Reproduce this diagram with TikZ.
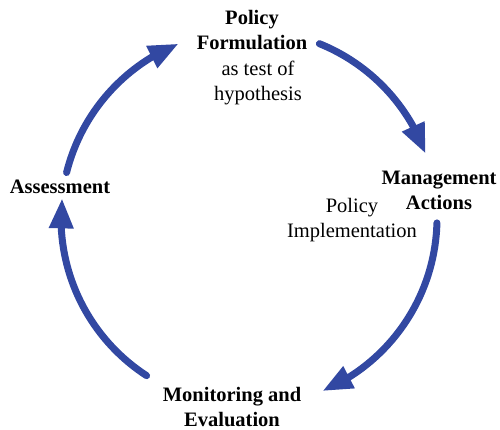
\documentclass[tikz,border=0pt]{standalone}
\usepackage{fontspec}
\setmainfont{Liberation Serif}
\usetikzlibrary{arrows.meta,bending,calc}
\definecolor{cycblue}{RGB}{50,72,162}

\begin{document}
\begin{tikzpicture}[
  x=1pt,y=1pt,
  stage/.style={font=\fontsize{20.5}{25}\selectfont\bfseries,align=center,
                inner sep=0pt,anchor=base},
  note/.style={font=\fontsize{20.5}{25}\selectfont,align=center,
               inner sep=0pt,anchor=base},
  cyc/.style={draw=cycblue,line width=7pt,line cap=round,
              -{Triangle[length=30pt,width=23pt]}}
]
\useasboundingbox (0,0) rectangle (500,429);
\coordinate (c) at (249,211);
% stages of the cycle (base = last line)
\node[stage] (form) at (252,379) {Policy\\Formulation};
\node[note] (test) at (258,328) {as test of\\hypothesis};
\node[stage] (mgmt) at (439,220) {Management\\Actions};
\node[note] (impl) at (352,192) {Policy\\Implementation};
\node[stage] (mon) at (232,3) {Monitoring and\\Evaluation};
\node[stage] (ass) at (60,236) {Assessment};
% arcs between stages
\coordinate (a1) at ($(c)+(166:188)$);
\coordinate (a2) at ($(c)+(68:188)$);
\coordinate (a3) at ($(c)+(-1.5:188)$);
\coordinate (a4) at ($(c)+(237:188)$);
\draw[cyc] (a1) arc[start angle=166,end angle=112,radius=188];
\draw[cyc] (a2) arc[start angle=68,end angle=20,radius=188];
\draw[cyc] (a3) arc[start angle=-1.5,end angle=-67,radius=188];
\draw[cyc] (a4) arc[start angle=237,end angle=174,radius=188];
\end{tikzpicture}
\end{document}
